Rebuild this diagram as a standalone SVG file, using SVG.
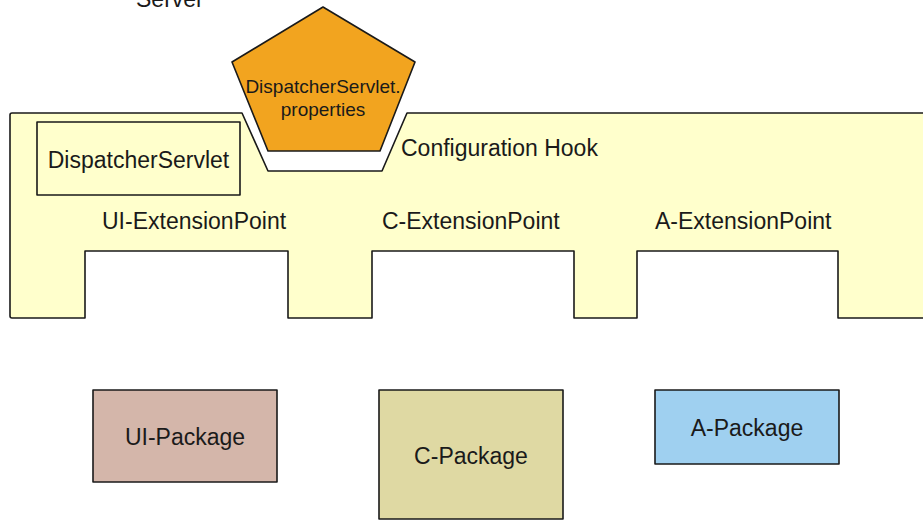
<svg xmlns="http://www.w3.org/2000/svg" width="923" height="521" viewBox="0 0 923 521">
<style>
text{font-family:"Liberation Sans",Arial,sans-serif;font-size:23px;fill:#1a1a1a}
.s{stroke:#1a1a1a;stroke-width:1.6;stroke-linejoin:round}
.c{text-anchor:middle}
</style>
<rect width="923" height="521" fill="#ffffff"/>
<g id="server"><text x="136" y="7">Server</text></g>
<g id="configuration-hook">
<path class="s" fill="#ffffcc" d="M925,113 L407,113 L382,171 L268,171 L242,113 L12,113 Q10,113 10,115 L10,316 Q10,318 12,318 L85,318 L85,251 L288,251 L288,318 L372,318 L372,251 L574,251 L574,318 L637,318 L637,251 L838,251 L838,318 L925,318"/>
<text x="401" y="156">Configuration Hook</text>
</g>
<g id="dispatcher-servlet">
<rect class="s" x="37" y="122" width="203" height="73" fill="#ffffcc"/>
<text x="138.5" y="168" class="c">DispatcherServlet</text>
</g>
<g id="ui-extension-point"><text x="102" y="229">UI-ExtensionPoint</text></g>
<g id="c-extension-point"><text x="382" y="229">C-ExtensionPoint</text></g>
<g id="a-extension-point"><text x="655" y="229">A-ExtensionPoint</text></g>
<g id="properties">
<polygon class="s" fill="#f2a41f" points="323,7 415,62 380,151 268,151 232,62"/>
<text x="323" y="93" class="c" style="font-size:19px">DispatcherServlet.</text>
<text x="323" y="116" class="c" style="font-size:19px">properties</text>
</g>
<g id="ui-package">
<rect class="s" x="93" y="390" width="184" height="92" fill="#d4b6aa"/>
<text x="185" y="445" class="c">UI-Package</text>
</g>
<g id="c-package">
<rect class="s" x="379" y="390" width="184" height="129" fill="#dfd9a3"/>
<text x="471" y="464" class="c">C-Package</text>
</g>
<g id="a-package">
<rect class="s" x="655" y="390" width="184" height="74" fill="#9fd0f0"/>
<text x="747" y="436" class="c">A-Package</text>
</g>
<g id="connectors"></g>
</svg>
